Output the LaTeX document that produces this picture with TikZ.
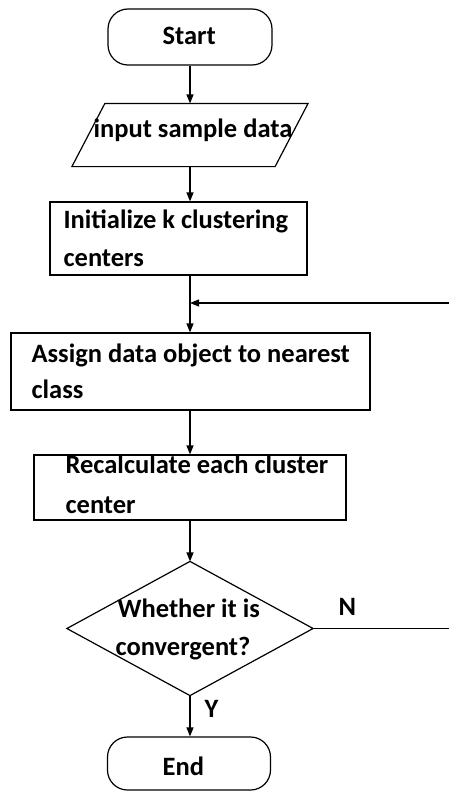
\documentclass[tikz,border=0pt]{standalone}
\usepackage{fontspec}
\setmainfont{Carlito}
\usetikzlibrary{arrows.meta,calc}
\begin{document}
\begin{tikzpicture}[x=1pt,y=-1pt,
  line width=1.2pt,
  box/.style={draw, rectangle, inner sep=0pt},
  ghost/.style={rectangle, inner sep=0pt},
  term/.style={draw, rectangle, rounded corners=20pt, inner sep=0pt},
  txt/.style={anchor=base west, inner sep=0pt, font=\fontsize{26.5}{30}\selectfont\bfseries},
  flow/.style={-{Triangle[length=9pt,width=7pt]}}]
\useasboundingbox (0,0) rectangle (449,792);
\coordinate (spine) at (190,0);
% shapes
\node[term, minimum width=164pt, minimum height=56pt] (start) at (190,37) {};
\node[ghost, minimum width=235pt, minimum height=62pt] (input) at (190,135) {};
\draw ($(input.north west)+(33,0)$) -- (input.north east) -- ($(input.south east)-(33,0)$) -- (input.south west) -- cycle;
\node[box, minimum width=257pt, minimum height=73pt] (init) at (178.5,238.5) {};
\node[box, minimum width=359pt, minimum height=77pt] (assign) at (190.5,371.5) {};
\node[box, minimum width=312pt, minimum height=65pt] (recalc) at (190,487.5) {};
\node[ghost, minimum width=245pt, minimum height=133pt] (dec) at (190,628.5) {};
\draw (dec.north) -- (dec.east) -- (dec.south) -- (dec.west) -- cycle;
\node[term, minimum width=163pt, minimum height=53pt] (stop) at (189,763.5) {};
% texts
\node[txt] (tstart) at (162,45) {Start};
\node[txt] (tinput) at (93,137) {input sample data};
\node[txt] (tinit1) at (63,228) {Initialize k clustering};
\node[txt] (tinit2) at (63,266) {centers};
\node[txt] (tass1) at (31,362) {Assign data object to nearest};
\node[txt] (tass2) at (31,398) {class};
\node[txt] (trec1) at (65,473) {Recalculate each cluster};
\node[txt] (trec2) at (65,513) {center};
\node[txt] (tdec1) at (117,617) {Whether it is};
\node[txt] (tdec2) at (115,655) {convergent?};
\node[txt] (tN) at (338,615) {N};
\node[txt] (tY) at (204,717) {Y};
\node[txt] (tend) at (162,775) {End};
% connectors
\coordinate (fbin) at (449,303);
\coordinate (fbout) at (449,628.5);
\coordinate (join) at (190,303);
\draw[flow] (start.south -| spine) -- (input.north -| spine);
\draw[flow] (input.south -| spine) -- (init.north -| spine);
\draw[flow] (init.south -| spine) -- (assign.north -| spine);
\draw[flow] (fbin) -- (join);
\draw[flow] (assign.south -| spine) -- (recalc.north -| spine);
\draw[flow] (recalc.south -| spine) -- (dec.north);
\draw (dec.east) -- (fbout);
\draw[flow] (dec.south) -- (stop.north -| spine);
\end{tikzpicture}
\end{document}
